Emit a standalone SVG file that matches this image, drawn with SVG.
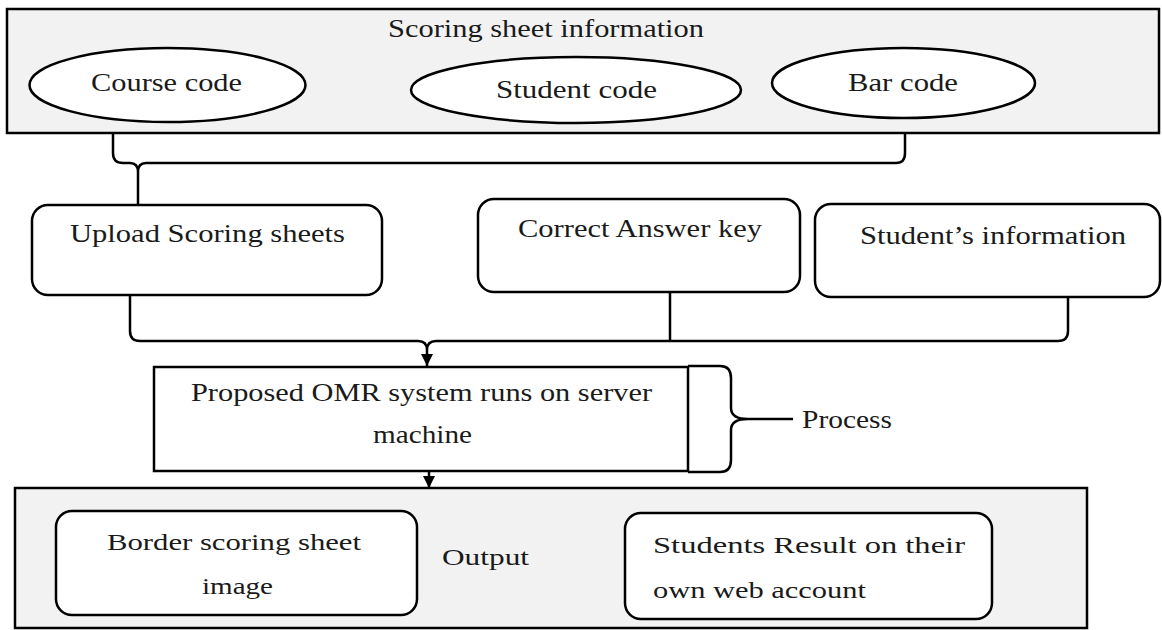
<svg xmlns="http://www.w3.org/2000/svg" width="1162" height="630" viewBox="0 0 1162 630">
<defs>
<style>
.grp{fill:#f2f2f2;stroke:#000;stroke-width:2.5}
.box{fill:#fff;stroke:#000;stroke-width:2.5}
.conn{fill:none;stroke:#000;stroke-width:2.5}
text{font-family:"Liberation Serif","Times New Roman",serif;font-size:25px;fill:#1a1a1a}
.sm{font-size:24px}
</style>
<marker id="arr" viewBox="0 0 10 10" refX="10" refY="5" markerWidth="5" markerHeight="5" orient="auto" markerUnits="strokeWidth">
<path d="M0,0 L10,5 L0,10 Z" fill="#000"/>
</marker>
</defs>
<rect width="1162" height="630" fill="#fff"/>

<g id="scoring-sheet-info">
<rect class="grp" x="7" y="9" width="1152" height="124"/>
<text x="388" y="37" textLength="316" lengthAdjust="spacingAndGlyphs">Scoring sheet information</text>
</g>
<g id="course-code">
<ellipse class="box" cx="167.5" cy="85" rx="138" ry="37"/>
<text x="91" y="91" textLength="151" lengthAdjust="spacingAndGlyphs">Course code</text>
</g>
<g id="student-code">
<ellipse class="box" cx="576" cy="90" rx="165" ry="33"/>
<text x="496" y="98" textLength="161" lengthAdjust="spacingAndGlyphs">Student code</text>
</g>
<g id="bar-code">
<ellipse class="box" cx="903.5" cy="83" rx="131.5" ry="35"/>
<text x="848" y="91" textLength="110" lengthAdjust="spacingAndGlyphs">Bar code</text>
</g>

<g id="upload">
<rect class="box" x="32" y="205" width="350" height="90" rx="16"/>
<text x="70" y="242" textLength="275" lengthAdjust="spacingAndGlyphs">Upload Scoring sheets</text>
</g>
<g id="answer-key">
<rect class="box" x="478" y="199" width="322" height="93" rx="16"/>
<text x="518" y="237" textLength="244" lengthAdjust="spacingAndGlyphs">Correct Answer key</text>
</g>
<g id="student-info">
<rect class="box" x="815" y="204" width="345" height="93" rx="16"/>
<text x="860" y="244" textLength="266" lengthAdjust="spacingAndGlyphs">Student’s information</text>
</g>

<g id="omr">
<rect class="box" x="154" y="367" width="534" height="104"/>
<text x="191" y="401" textLength="461" lengthAdjust="spacingAndGlyphs">Proposed OMR system runs on server</text>
<text x="373" y="443" textLength="99" lengthAdjust="spacingAndGlyphs">machine</text>
</g>
<g id="process">
<text x="802" y="428" textLength="90" lengthAdjust="spacingAndGlyphs">Process</text>
</g>

<g id="output">
<rect class="grp" x="15" y="488" width="1072" height="140"/>
<text class="sm" x="442" y="565" textLength="87" lengthAdjust="spacingAndGlyphs">Output</text>
</g>
<g id="border-image">
<rect class="box" x="56" y="511" width="361" height="104" rx="16"/>
<text class="sm" x="107" y="550" textLength="254" lengthAdjust="spacingAndGlyphs">Border scoring sheet</text>
<text class="sm" x="202" y="594" textLength="71" lengthAdjust="spacingAndGlyphs">image</text>
</g>
<g id="student-result">
<rect class="box" x="625" y="513" width="367" height="106" rx="16"/>
<text class="sm" x="653" y="553" textLength="312" lengthAdjust="spacingAndGlyphs">Students Result on their</text>
<text class="sm" x="653" y="598" textLength="213" lengthAdjust="spacingAndGlyphs">own web account</text>
</g>

<g id="connectors">
<path class="conn" d="M113,133 L113,153 Q113,163 123,163 L130,163 Q138,163 138,172 Q138,163 146,163 L896,163 Q905,163 905,153 L905,133"/>
<path class="conn" d="M138,172 L138,205"/>
<path class="conn" d="M130,295 L130,331 Q130,341 140,341 L418,341 Q427,341 427,350 Q427,341 436,341 L1058,341 Q1068,341 1068,331 L1068,297"/>
<path class="conn" d="M670,292 L670,341"/>
<path class="conn" d="M427,350 L427,366" marker-end="url(#arr)"/>
<path class="conn" d="M429,471 L429,488" marker-end="url(#arr)"/>
<path class="conn" d="M688,366 L720,366 Q731,366 731,378 L731,408 Q731,419 748,419 Q731,419 731,430 L731,460 Q731,472 720,472 L688,472"/>
<path class="conn" d="M748,419 L793,419"/>
</g>
</svg>
